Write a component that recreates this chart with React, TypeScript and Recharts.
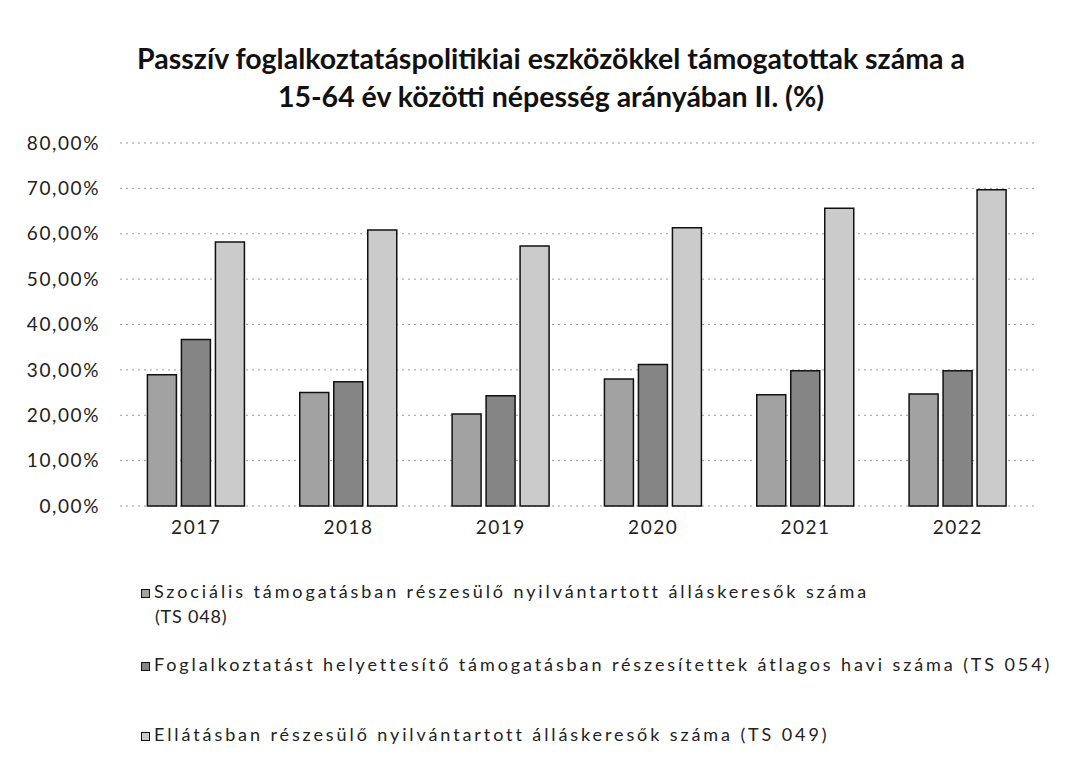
import { BarChart, Bar, XAxis, YAxis, CartesianGrid } from 'recharts';

const YEARS = ['2017', '2018', '2019', '2020', '2021', '2022'];
const SZOCIALIS = [28.9, 25.0, 20.3, 28.0, 24.5, 24.7];
const FOGLALKOZTATAST = [36.7, 27.4, 24.3, 31.2, 29.8, 29.8];
const ELLATASBAN = [58.2, 60.8, 57.3, 61.3, 65.6, 69.7];
const Y_TICKS = [0, 10, 20, 30, 40, 50, 60, 70, 80];

const SERIES = [
  { key: 'szoc', label: 'Szociális támogatásban részesülő nyilvántartott álláskeresők száma', label2: '(TS 048)', fill: '#a2a2a2' },
  { key: 'fogl', label: 'Foglalkoztatást helyettesítő támogatásban részesítettek átlagos havi száma (TS 054)', fill: '#858585' },
  { key: 'ella', label: 'Ellátásban részesülő nyilvántartott álláskeresők száma  (TS 049)', fill: '#cbcbcb' },
];

const data = YEARS.map((year, i) => ({
  year,
  szoc: SZOCIALIS[i],
  fogl: FOGLALKOZTATAST[i],
  ella: ELLATASBAN[i],
}));

const FONT = 'Lato, "Open Sans", sans-serif';

const fmtPct = (v: number) => `${v.toFixed(2).replace('.', ',')}%`;

export default function App() {
  return (
    <div style={{ position: 'absolute', left: 0, top: 0, width: 1073, height: 771, background: '#fff', fontFamily: FONT }}>
      <div
        style={{
          position: 'absolute',
          left: 0,
          top: 39,
          width: 1102,
          textAlign: 'center',
          fontWeight: 700,
          fontSize: 28.5,
          lineHeight: '38px',
          color: '#111',
        }}
      >
        Passzív foglalkoztatáspolitikiai eszközökkel támogatottak száma a
        <br />
        15-64 év közötti népesség arányában II. (%)
      </div>

      <div style={{ position: 'absolute', left: 0, top: 0 }}>
        <BarChart
          width={1073}
          height={771}
          data={data}
          margin={{ top: 143, right: 39, bottom: 235, left: 0 }}
          barCategoryGap="18%"
          barGap={5}
        >
          <CartesianGrid vertical={false} stroke="#9a9a9a" strokeDasharray="2 4" />
          <XAxis
            dataKey="year"
            axisLine={false}
            tickLine={false}
            tickSize={0}
            tickMargin={15}
            height={30}
            tick={{ fill: '#222', fontSize: 19, fontFamily: FONT, letterSpacing: 1.5 }}
          />
          <YAxis
            domain={[0, 80]}
            ticks={Y_TICKS}
            interval={0}
            width={120}
            axisLine={false}
            tickLine={false}
            tickSize={0}
            tickMargin={20}
            tickFormatter={fmtPct}
            tick={{ fill: '#222', fontSize: 19, fontFamily: FONT, letterSpacing: 1.6 }}
          />
          {SERIES.map(s => (
            <Bar
              key={s.key}
              dataKey={s.key}
              fill={s.fill}
              stroke="#111"
              strokeWidth={1.5}
              isAnimationActive={false}
            />
          ))}
        </BarChart>
      </div>

      <div style={{ position: 'absolute', left: 141, top: 579, fontSize: 18, color: '#222', letterSpacing: 2.9 }}>
        {SERIES.map((s, i) => (
          <div key={s.key} style={{ position: 'absolute', left: 0, top: [0, 73, 143][i], whiteSpace: 'nowrap', lineHeight: '25px' }}>
            <span
              style={{
                display: 'inline-block',
                width: 7,
                height: 7,
                border: '1px solid #111',
                background: s.fill,
                marginRight: 4,
                verticalAlign: 'middle',
              }}
            />
            {s.label}
            {s.label2 && <div style={{ paddingLeft: 14, letterSpacing: 0.8 }}>{s.label2}</div>}
          </div>
        ))}
      </div>
    </div>
  );
}
